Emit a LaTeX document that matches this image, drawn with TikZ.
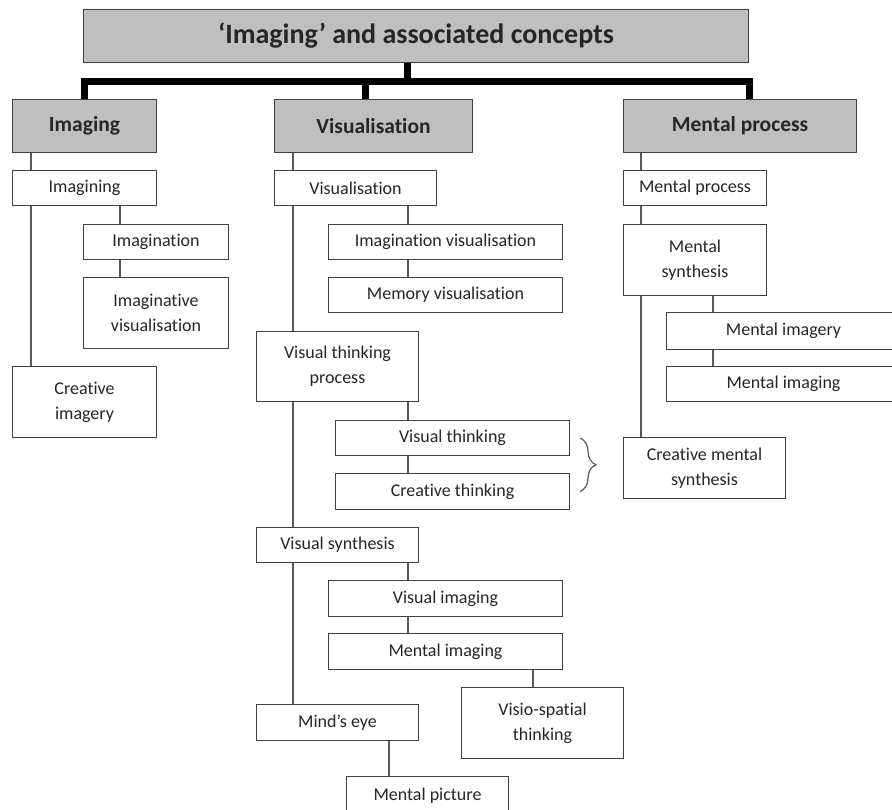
\documentclass[tikz,border=0pt]{standalone}
\usepackage{fontspec}
\setmainfont{Carlito}[Ligatures={NoCommon,NoRare}]
\usetikzlibrary{decorations.pathreplacing}

\begin{document}
\begin{tikzpicture}[x=1pt,y=-1pt,
    box/.style={draw=black!75,line width=1pt,anchor=north west,inner sep=0pt,
      align=center,text=black!85,font=\fontsize{18}{25}\selectfont},
    head/.style={box,fill=black!25,font=\fontsize{21.5}{26}\selectfont\bfseries},
    link/.style={draw=black!65,line width=1.2pt},
    bus/.style={line width=7pt}]
    \useasboundingbox (0,0) rectangle (892,809);
    \fill[white] (0,0) rectangle (892,809);
    \clip (0,0) rectangle (892,809);

    % top and first level
    \node[head,minimum width=665,minimum height=53,
      font=\fontsize{28}{32}\selectfont\bfseries] (title) at (83,9) {‘Imaging’ and associated concepts};
    \node[head,minimum width=144,minimum height=53] (imaging) at (12,99) {Imaging};
    \node[head,minimum width=198,minimum height=53] (visual) at (274,99) {Visualisation};
    \node[head,minimum width=233,minimum height=53] (mental) at (623,99) {Mental process};

    \coordinate (hub) at (407,81);
    \draw[bus] (title.south -| hub) -- (hub);
    \draw[bus] (imaging.north) |- (hub) -| ([xshift=9.5pt]mental.north);
    \draw[bus] ([xshift=-8pt]visual.north) -- ([xshift=-8pt]visual.north |- hub);

    % imaging column
    \node[box,minimum width=144,minimum height=35] (imagining) at (12,170) {Imagining};
    \node[box,minimum width=145,minimum height=35] (imagination) at (83,224) {Imagination};
    \node[box,minimum width=145,minimum height=71] (imagvis) at (83,277) {Imaginative\\visualisation};
    \node[box,minimum width=144,minimum height=71] (creaimg) at (12,366) {Creative\\imagery};

    % visualisation column
    \node[box,minimum width=162,minimum height=35] (visn) at (274,170) {Visualisation};
    \node[box,minimum width=234,minimum height=35] (imagvisn) at (328,224) {Imagination visualisation};
    \node[box,minimum width=234,minimum height=35] (memvis) at (328,277) {Memory visualisation};
    \node[box,minimum width=162,minimum height=70] (vtp) at (256,331) {Visual thinking\\process};
    \node[box,minimum width=234,minimum height=35] (vthink) at (335,420) {Visual thinking};
    \node[box,minimum width=234,minimum height=36] (cthink) at (335,473) {Creative thinking};
    \node[box,minimum width=162,minimum height=35] (vsyn) at (256,527) {Visual synthesis};
    \node[box,minimum width=234,minimum height=36] (vimg) at (328,580) {Visual imaging};
    \node[box,minimum width=234,minimum height=36] (mimg) at (328,633) {Mental imaging};
    \node[box,minimum width=162,minimum height=71] (visio) at (461,687) {Visio-spatial\\thinking};
    \node[box,minimum width=162,minimum height=36] (mindseye) at (256,704) {Mind’s eye};
    \node[box,minimum width=162,minimum height=38] (mpic) at (346,776) {Mental picture};

    % mental process column
    \node[box,minimum width=143,minimum height=35] (mproc) at (623,170) {Mental process};
    \node[box,minimum width=143,minimum height=71] (msyn) at (623,224) {Mental\\synthesis};
    \node[box,minimum width=234,minimum height=37] (mimagery) at (666,312) {Mental imagery};
    \node[box,minimum width=234,minimum height=35] (mimaging) at (666,366) {Mental imaging};
    \node[box,minimum width=162,minimum height=61] (cms) at (623,437) {Creative mental\\synthesis};

    % trunks of the thin links
    \coordinate (t1) at (31,0);
    \coordinate (t2) at (120,0);
    \coordinate (t3) at (293,0);
    \coordinate (t4) at (408,0);
    \coordinate (t5) at (533,0);
    \coordinate (t6) at (389,0);
    \coordinate (t7) at (641,0);
    \coordinate (t8) at (713,0);

    \draw[link] (imaging.south -| t1) -- (imagining.north -| t1);
    \draw[link] (imagining.south -| t1) -- (creaimg.north -| t1);
    \draw[link] (imagining.south -| t2) -- (imagination.north -| t2);
    \draw[link] (imagination.south -| t2) -- (imagvis.north -| t2);

    \draw[link] (visual.south -| t3) -- (visn.north -| t3);
    \draw[link] (visn.south -| t3) -- (vtp.north -| t3);
    \draw[link] (vtp.south -| t3) -- (vsyn.north -| t3);
    \draw[link] (vsyn.south -| t3) -- (mindseye.north -| t3);
    \draw[link] (visn.south -| t4) -- (imagvisn.north -| t4);
    \draw[link] (imagvisn.south -| t4) -- (memvis.north -| t4);
    \draw[link] (vtp.south -| t4) -- (vthink.north -| t4);
    \draw[link] (vthink.south -| t4) -- (cthink.north -| t4);
    \draw[link] (vsyn.south -| t4) -- (vimg.north -| t4);
    \draw[link] (vimg.south -| t4) -- (mimg.north -| t4);
    \draw[link] (mimg.south -| t5) -- (visio.north -| t5);
    \draw[link] (mindseye.south -| t6) -- (mpic.north -| t6);

    \draw[link] (mental.south -| t7) -- (mproc.north -| t7);
    \draw[link] (mproc.south -| t7) -- (msyn.north -| t7);
    \draw[link] (msyn.south -| t7) -- (cms.north -| t7);
    \draw[link] (msyn.south -| t8) -- (mimagery.north -| t8);
    \draw[link] (mimagery.south -| t8) -- (mimaging.north -| t8);

    \draw[link,decorate,decoration={brace,amplitude=16pt}]
      ([xshift=10pt]vthink.east) -- ([xshift=10pt]cthink.east);
\end{tikzpicture}
\end{document}
